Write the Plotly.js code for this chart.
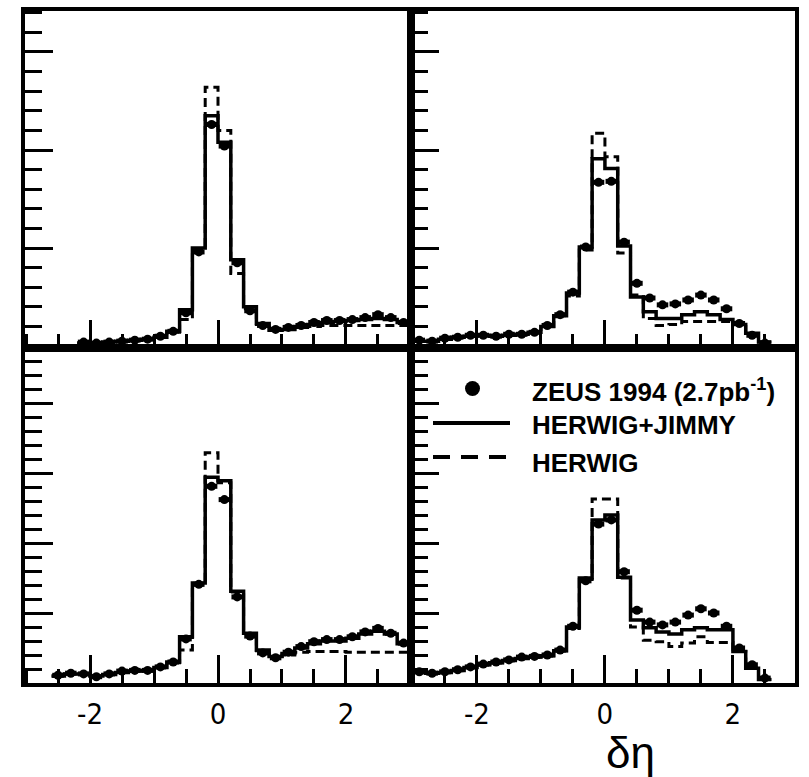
<!DOCTYPE html>
<html>
<head>
<meta charset="utf-8">
<script src="https://cdn.plot.ly/plotly-3.0.1.min.js"></script>
<style>html,body{margin:0;padding:0;background:#fff;}#chart{width:809px;height:777px;}</style>
</head>
<body>
<div id="chart"></div>
<script>
// bin centres of the δη histograms (bin width 0.2)
const binCenters = [-2.9,-2.7,-2.5,-2.3,-2.1,-1.9,-1.7,-1.5,-1.3,-1.1,-0.9,-0.7,-0.5,-0.3,-0.1,
                    0.1,0.3,0.5,0.7,0.9,1.1,1.3,1.5,1.7,1.9,2.1,2.3,2.5,2.7,2.9];
const binHalfWidth = 0.1;

// top-left panel
const tlZeus   = [null,null,null,null,0.04,0.03,0.04,0.05,0.06,0.07,0.10,0.15,0.34,0.96,2.26,
                  2.04,0.85,0.36,0.21,0.17,0.19,0.21,0.24,0.26,0.26,0.27,0.29,0.32,0.29,0.24];
const tlJimmy  = [null,null,null,null,0.03,0.03,0.04,0.05,0.06,0.07,0.09,0.15,0.37,1.00,2.35,
                  2.08,0.88,0.40,0.23,0.16,0.17,0.20,0.22,0.24,0.25,0.26,0.27,0.28,0.27,0.24];
const tlHerwig = [null,null,null,null,0.03,0.03,0.04,0.05,0.06,0.07,0.09,0.14,0.27,0.98,2.64,
                  2.20,0.74,0.38,0.22,0.16,0.17,0.19,0.20,0.21,0.21,0.21,0.21,0.21,0.21,0.21];

// top-right panel
const trZeus   = [0.06,0.05,0.08,0.09,0.11,0.11,0.10,0.12,0.12,0.14,0.21,0.32,0.55,1.01,1.67,
                  1.68,1.06,0.64,0.49,0.42,0.43,0.47,0.52,0.47,0.38,0.23,0.11,0.03,null,null];
const trJimmy  = [0.05,0.05,0.07,0.09,0.10,0.11,0.10,0.11,0.12,0.14,0.20,0.31,0.54,1.01,1.91,
                  1.81,1.02,0.50,0.35,0.28,0.28,0.32,0.35,0.32,0.27,0.22,0.13,0.04,null,null];
const trHerwig = [0.05,0.05,0.07,0.09,0.10,0.11,0.10,0.11,0.12,0.14,0.20,0.30,0.51,0.98,2.17,
                  1.93,0.95,0.52,0.28,0.21,0.22,0.25,0.25,0.25,0.25,0.22,0.12,0.04,null,null];

// bottom-left panel
const blZeus   = [null,null,0.11,0.14,0.13,0.09,0.13,0.17,0.18,0.18,0.23,0.30,0.63,1.41,2.81,
                  2.62,1.23,0.67,0.43,0.36,0.44,0.52,0.59,0.62,0.62,0.66,0.73,0.78,0.71,0.57];
const blJimmy  = [null,null,0.10,0.13,0.13,0.10,0.12,0.15,0.17,0.18,0.22,0.30,0.66,1.43,2.94,
                  2.89,1.31,0.71,0.47,0.38,0.42,0.50,0.56,0.60,0.60,0.64,0.70,0.74,0.70,0.56];
const blHerwig = [null,null,0.10,0.13,0.13,0.10,0.12,0.15,0.17,0.18,0.22,0.29,0.47,1.40,3.29,
                  2.86,1.30,0.70,0.46,0.38,0.40,0.44,0.45,0.45,0.45,0.44,0.44,0.44,0.44,0.44];

// bottom-right panel
const brZeus   = [0.16,0.14,0.16,0.19,0.23,0.27,0.30,0.33,0.37,0.38,0.40,0.47,0.81,1.46,2.27,
                  2.33,1.59,1.04,0.87,0.83,0.87,0.97,1.06,1.00,0.81,0.50,0.26,0.07,null,null];
const brJimmy  = [0.15,0.14,0.15,0.18,0.22,0.26,0.29,0.32,0.35,0.37,0.39,0.46,0.80,1.50,2.33,
                  2.40,1.51,0.90,0.79,0.73,0.70,0.76,0.79,0.76,0.76,0.45,0.21,0.05,null,null];
const brHerwig = [0.15,0.14,0.15,0.18,0.22,0.26,0.29,0.32,0.35,0.37,0.39,0.46,0.78,1.48,2.63,
                  2.63,1.50,0.80,0.61,0.59,0.52,0.57,0.66,0.58,0.58,0.45,0.21,0.05,null,null];

const xTickVals = [-2, 0, 2];
const xTickText = ['-2', '0', '2'];
const legendLabels = ['ZEUS 1994 (2.7pb<sup>-1</sup>)', 'HERWIG+JIMMY', 'HERWIG'];
const axisTitle = 'δη';

function steps(vals) {
  const xs = [], ys = [];
  let last = -1;
  for (let i = 0; i < vals.length; i++) {
    if (vals[i] === null) continue;
    xs.push(binCenters[i] - binHalfWidth); ys.push(vals[i]); last = i;
  }
  xs.push(binCenters[last] + binHalfWidth); ys.push(vals[last]);
  return {xs, ys};
}
function points(vals) {
  const xs = [], ys = [];
  for (let i = 0; i < vals.length; i++) if (vals[i] !== null) { xs.push(binCenters[i]); ys.push(vals[i]); }
  return {xs, ys};
}

const panels = [
  {z: tlZeus, j: tlJimmy, h: tlHerwig, xa: 'x',  ya: 'y'},
  {z: trZeus, j: trJimmy, h: trHerwig, xa: 'x2', ya: 'y2'},
  {z: blZeus, j: blJimmy, h: blHerwig, xa: 'x3', ya: 'y3'},
  {z: brZeus, j: brJimmy, h: brHerwig, xa: 'x4', ya: 'y4'}
];

const traces = [];
panels.forEach(p => {
  const h = steps(p.h);
  traces.push({x: h.xs, y: h.ys, xaxis: p.xa, yaxis: p.ya, mode: 'lines', name: legendLabels[2],
    line: {shape: 'hv', color: '#000', width: 3, dash: '9px,5px'}, showlegend: false, hoverinfo: 'skip'});
  const j = steps(p.j);
  traces.push({x: j.xs, y: j.ys, xaxis: p.xa, yaxis: p.ya, mode: 'lines', name: legendLabels[1],
    line: {shape: 'hv', color: '#000', width: 3.5}, showlegend: false, hoverinfo: 'skip'});
  const d = points(p.z);
  traces.push({x: d.xs, y: d.ys, xaxis: p.xa, yaxis: p.ya, mode: 'markers', name: legendLabels[0],
    marker: {symbol: 'circle', size: 9, color: '#000'},
    error_x: {type: 'constant', value: 0.09, thickness: 5, width: 0, color: '#000'},
    showlegend: false});
});

const W = 809, H = 777;
const px = v => v / W;
const py = v => 1 - v / H;

const tickFont = {family: 'Liberation Sans Narrow, DejaVu Sans Condensed, sans-serif', size: 29, color: '#000'};

function xAxis(domain, range, labels, anchor) {
  return {
    domain: domain, range: range, anchor: anchor,
    showline: true, linewidth: 4, linecolor: '#000', mirror: true,
    showgrid: false, zeroline: false,
    ticks: 'inside', tickvals: xTickVals, ticktext: xTickText, ticklen: 28, tickwidth: 3, tickcolor: '#000',
    minor: {dtick: 0.5, tick0: 0, ticks: 'inside', ticklen: 14, tickwidth: 3, tickcolor: '#000', showgrid: false},
    showticklabels: labels, tickfont: tickFont, ticklabelstandoff: 2
  };
}
function yAxis(domain, range, anchor) {
  return {
    domain: domain, range: range, anchor: anchor,
    showline: true, linewidth: 4, linecolor: '#000', mirror: true,
    showgrid: false, zeroline: false,
    ticks: 'inside', dtick: 1, tick0: 0, ticklen: 28, tickwidth: 3, tickcolor: '#000',
    minor: {dtick: 0.2, tick0: 0, ticks: 'inside', ticklen: 17, tickwidth: 3, tickcolor: '#000', showgrid: false},
    showticklabels: false
  };
}

const xLeft = [px(25), px(411)], xRight = [px(411), px(795)];
const yTop = [py(348), py(11)], yBot = [py(683), py(348)];
const rLeft = [-3.016, 3.016], rRight = [-3.03, 2.97];
const rTop = [-0.02, 3.418], rBot = [0, 4.786];

const legFont = {family: 'Liberation Sans, Arial, sans-serif', size: 26, color: '#000'};

const layout = {
  width: W, height: H,
  margin: {l: 0, r: 0, t: 0, b: 0},
  paper_bgcolor: '#fff', plot_bgcolor: '#fff',
  showlegend: false,
  xaxis: xAxis(xLeft, rLeft, false, 'y'),
  yaxis: yAxis(yTop, rTop, 'x'),
  xaxis2: xAxis(xRight, rRight, false, 'y2'),
  yaxis2: yAxis(yTop, rTop, 'x2'),
  xaxis3: xAxis(xLeft, rLeft, true, 'y3'),
  yaxis3: yAxis(yBot, rBot, 'x3'),
  xaxis4: xAxis(xRight, rRight, true, 'y4'),
  yaxis4: yAxis(yBot, rBot, 'x4'),
  shapes: [
    {type: 'circle', xref: 'paper', yref: 'paper', x0: px(465), x1: px(480), y0: py(396), y1: py(381),
     fillcolor: '#000', line: {color: '#000', width: 0}},
    {type: 'line', xref: 'paper', yref: 'paper', x0: px(433), x1: px(510), y0: py(423), y1: py(423),
     line: {color: '#000', width: 4}},
    {type: 'line', xref: 'paper', yref: 'paper', x0: px(433), x1: px(510), y0: py(457), y1: py(457),
     line: {color: '#000', width: 4, dash: '17px,11px'}}
  ],
  annotations: [
    {xref: 'paper', yref: 'paper', x: px(530), y: py(390), xanchor: 'left', yanchor: 'middle',
     text: '<b>' + legendLabels[0] + '</b>', showarrow: false, font: legFont},
    {xref: 'paper', yref: 'paper', x: px(530), y: py(425), xanchor: 'left', yanchor: 'middle',
     text: '<b>' + legendLabels[1] + '</b>', showarrow: false, font: legFont},
    {xref: 'paper', yref: 'paper', x: px(530), y: py(463), xanchor: 'left', yanchor: 'middle',
     text: '<b>' + legendLabels[2] + '</b>', showarrow: false, font: legFont},
    {xref: 'paper', yref: 'paper', x: px(630), y: py(752), xanchor: 'center', yanchor: 'middle',
     text: axisTitle, showarrow: false, font: {family: 'Liberation Sans, Arial, sans-serif', size: 44, color: '#000'}}
  ]
};

Plotly.newPlot('chart', traces, layout, {staticPlot: true, displayModeBar: false});
</script>
</body>
</html>
